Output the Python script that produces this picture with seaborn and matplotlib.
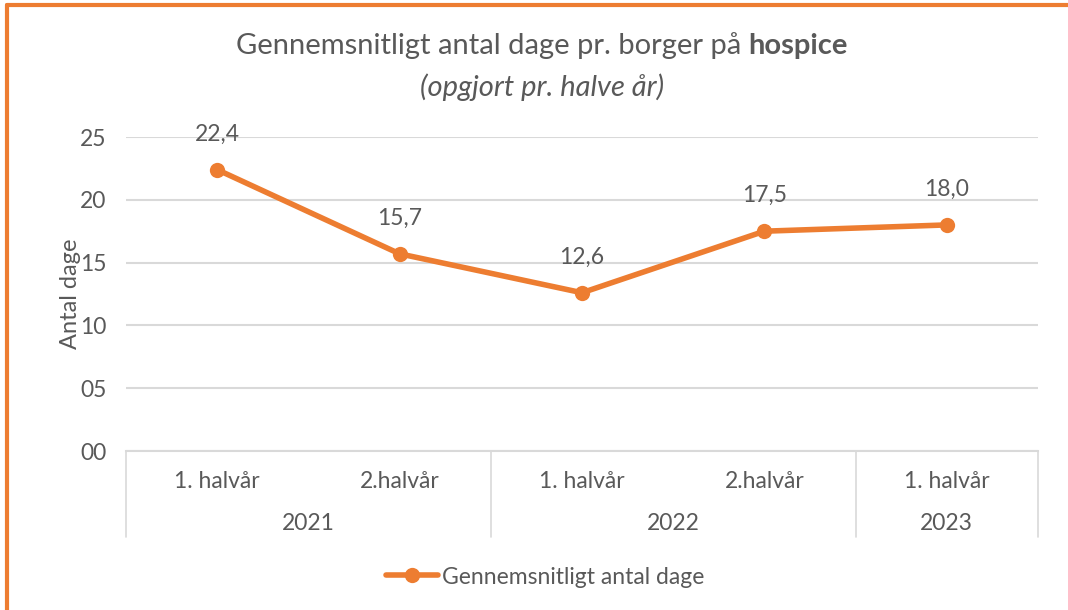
import matplotlib
matplotlib.use("Agg")
import matplotlib.pyplot as plt
import seaborn as sns
import pandas as pd
from matplotlib.lines import Line2D

# data
halvaar = ["1. halvår", "2.halvår", "1. halvår", "2.halvår", "1. halvår"]
aar = ["2021", "2022", "2023"]
aar_spans = [(0, 1), (2, 3), (4, 4)]
dage = [22.4, 15.7, 12.6, 17.5, 18.0]
serie = "Gennemsnitligt antal dage"

df = pd.DataFrame({"pos": range(len(dage)), "dage": dage})

sns.set_theme(style="white")
plt.rcParams["font.family"] = ["Lato", "DejaVu Sans"]
grey = "#595959"
orange = "#ED7D31"
fs = 16.5

fig = plt.figure(figsize=(10.68, 6.10), dpi=100)
ax = fig.add_axes([126 / 1068, (610 - 451) / 610, 912 / 1068, 314 / 610])

sns.lineplot(data=df, x="pos", y="dage", ax=ax, color=orange, lw=4,
             marker="o", markersize=11, markeredgewidth=0, label=serie, zorder=3)

ax.set_xlim(-0.5, len(dage) - 0.5)
ax.set_ylim(0, 25)
ax.set_yticks(range(0, 26, 5))
ax.set_yticklabels([f"{v:02d}" for v in range(0, 26, 5)], fontsize=fs, color=grey)
ax.tick_params(axis="y", length=0, pad=14)
ax.set_xticks([])
ax.set_xlabel("")
ax.set_ylabel("Antal dage", fontsize=17, color=grey, labelpad=-1)
ax.yaxis.grid(True, color="#D9D9D9", lw=1.5)
ax.set_axisbelow(True)
for s in ["top", "right", "left"]:
    ax.spines[s].set_visible(False)
ax.spines["bottom"].set_color("#D9D9D9")
ax.spines["bottom"].set_linewidth(1.5)

# data labels
for i, v in enumerate(dage):
    ax.annotate(f"{v:.1f}".replace(".", ","), (i, v), xytext=(0, 18),
                textcoords="offset points", ha="center", va="bottom",
                fontsize=fs, color=grey)

# category axis (two levels)
trans = ax.get_xaxis_transform()
low = -86 / 314
for i, lab in enumerate(halvaar):
    ax.text(i, -30 / 314, lab, transform=trans, ha="center", va="center",
            fontsize=fs, color=grey)
for lab, (a, b) in zip(aar, aar_spans):
    ax.text((a + b) / 2, -73 / 314, lab, transform=trans, ha="center",
            va="center", fontsize=fs, color=grey)
for x in [-0.5, 1.5, 3.5, len(dage) - 0.5]:
    ax.plot([x, x], [0, low], transform=trans, color="#D9D9D9", lw=1.2,
            clip_on=False)

# title, normal part + bold part centred together
ty = 1 - 46 / 610
t1 = fig.text(0, ty, "Gennemsnitligt antal dage pr. borger på ", ha="left",
              va="center", fontsize=21, color=grey)
t2 = fig.text(0, ty, "hospice", ha="left", va="center", fontsize=21,
              color=grey, fontweight="bold")
fig.canvas.draw()
w1 = t1.get_window_extent().width
w2 = t2.get_window_extent().width
x0 = 542 - (w1 + w2) / 2
t1.set_x(x0 / 1068)
t2.set_x((x0 + w1) / 1068)
fig.text(542 / 1068, 1 - 87 / 610, "(opgjort pr. halve år)", ha="center",
         va="center", fontsize=21, color=grey, style="italic")

# legend
leg = ax.legend(loc="center", bbox_to_anchor=(545 / 1068, 1 - 577 / 610),
                bbox_transform=fig.transFigure, frameon=False, fontsize=fs,
                handlelength=2.3, handletextpad=0.15)
for txt in leg.get_texts():
    txt.set_color(grey)

# orange frame
fig.add_artist(Line2D([7 / 1068, 1], [1 - 5 / 610, 1 - 5 / 610], color=orange, lw=3,
                      transform=fig.transFigure))
fig.add_artist(Line2D([7 / 1068, 7 / 1068], [0, 1 - 5 / 610], color=orange, lw=3,
                      transform=fig.transFigure))

fig.savefig("out.png", dpi=100)
